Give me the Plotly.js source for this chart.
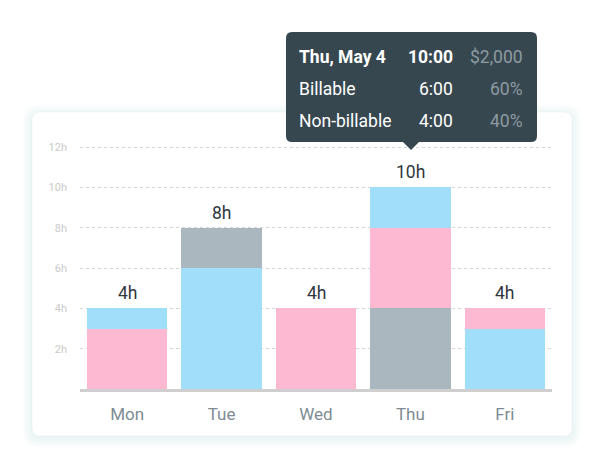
<!DOCTYPE html>
<html>
<head>
<meta charset="utf-8">
<script src="https://cdn.plot.ly/plotly-3.0.1.min.js"></script>
<style>
  html, body { margin: 0; padding: 0; background: #ffffff; }
  #chart { width: 604px; height: 460px; }
</style>
</head>
<body>
<div id="chart"></div>
<script>
// ---- data ----
const days = ['Mon', 'Tue', 'Wed', 'Thu', 'Fri'];
// stacked segments, bottom to top
const segBottom = [3, 6, 4, 4, 3];
const segMiddle = [1, 2, 0, 4, 1];
const segTop    = [0, 0, 0, 2, 0];
// segment kinds: B = billable (blue), P = pink, N = non-billable (gray)
const kindBottom = ['P', 'B', 'P', 'N', 'B'];
const kindMiddle = ['B', 'N', 'P', 'P', 'P'];
const kindTop    = ['B', 'B', 'B', 'B', 'B'];
const yTicks = [2, 4, 6, 8, 10, 12];
const tooltipRows = [
  ['Thu, May 4', '10:00', '$2,000'],
  ['Billable', '6:00', '60%'],
  ['Non-billable', '4:00', '40%']
];

// ---- styling ----
const palette = { B: '#a1defa', P: '#feb9d2', N: '#aab7bf' };
const W = 604, H = 460;
const FONT = 'Roboto, "Open Sans", sans-serif';
const px = x => x / W;
const py = y => (H - y) / H;

function roundRect(x0, y0, x1, y1, r) {
  return 'M' + px(x0 + r) + ',' + py(y0) +
    ' L' + px(x1 - r) + ',' + py(y0) +
    ' Q' + px(x1) + ',' + py(y0) + ' ' + px(x1) + ',' + py(y0 + r) +
    ' L' + px(x1) + ',' + py(y1 - r) +
    ' Q' + px(x1) + ',' + py(y1) + ' ' + px(x1 - r) + ',' + py(y1) +
    ' L' + px(x0 + r) + ',' + py(y1) +
    ' Q' + px(x0) + ',' + py(y1) + ' ' + px(x0) + ',' + py(y1 - r) +
    ' L' + px(x0) + ',' + py(y0 + r) +
    ' Q' + px(x0) + ',' + py(y0) + ' ' + px(x0 + r) + ',' + py(y0) + ' Z';
}

function layerTrace(vals, kinds) {
  return {
    type: 'bar', x: days, y: vals,
    marker: { color: kinds.map(k => palette[k]), line: { width: 0 } },
    hoverinfo: 'skip', showlegend: false
  };
}

const totals = days.map((d, i) => segBottom[i] + segMiddle[i] + segTop[i]);

const traces = [
  layerTrace(segBottom, kindBottom),
  layerTrace(segMiddle, kindMiddle),
  layerTrace(segTop, kindTop)
];

// card shadow + card
const shapes = [];
for (let i = 10; i >= 1; i--) {
  shapes.push({
    type: 'path', xref: 'paper', yref: 'paper', layer: 'below',
    path: roundRect(32 - i, 112 - i + 2, 572 + i, 436 + i + 2, 8 + i),
    fillcolor: 'rgba(60,80,100,0.009)', line: { width: 0 }
  });
}
shapes.push({
  type: 'path', xref: 'paper', yref: 'paper', layer: 'below',
  path: roundRect(32, 112, 572, 436, 8),
  fillcolor: '#ffffff', line: { width: 1, color: 'rgba(225,230,235,0.35)' }
});
// tooltip box + arrow
shapes.push({
  type: 'path', xref: 'paper', yref: 'paper', layer: 'above',
  path: roundRect(286, 32, 537, 142, 6),
  fillcolor: '#37474f', line: { width: 0 }
});
shapes.push({
  type: 'path', xref: 'paper', yref: 'paper', layer: 'above',
  path: 'M' + px(402) + ',' + py(141) + ' L' + px(420) + ',' + py(141) +
        ' L' + px(411) + ',' + py(150) + ' Z',
  fillcolor: '#37474f', line: { width: 0 }
});

const annotations = [];
// bar totals
days.forEach((d, i) => {
  annotations.push({
    xref: 'x', yref: 'y', x: d, y: totals[i],
    xanchor: 'center', yanchor: 'bottom', yshift: 3, showarrow: false,
    text: totals[i] + 'h',
    font: { family: FONT, size: 17.5, color: '#30383d' }
  });
});
const rowY = [57, 89, 121];
const TF = 17.5;
tooltipRows.forEach((row, i) => {
  const bold = i === 0;
  annotations.push({
    xref: 'paper', yref: 'paper', x: px(297), y: py(rowY[i]),
    xanchor: 'left', yanchor: 'middle', showarrow: false,
    text: bold ? '<b>' + row[0] + '</b>' : row[0],
    font: { family: FONT, size: TF, color: '#ffffff' }
  });
  annotations.push({
    xref: 'paper', yref: 'paper', x: px(455), y: py(rowY[i]),
    xanchor: 'right', yanchor: 'middle', showarrow: false,
    text: bold ? '<b>' + row[1] + '</b>' : row[1],
    font: { family: FONT, size: TF, color: '#ffffff' }
  });
  annotations.push({
    xref: 'paper', yref: 'paper', x: px(525), y: py(rowY[i]),
    xanchor: 'right', yanchor: 'middle', showarrow: false,
    text: row[2],
    font: { family: FONT, size: TF, color: '#8d9aa2' }
  });
});

const layout = {
  width: W, height: H,
  margin: { l: 0, r: 0, t: 0, b: 0 },
  paper_bgcolor: '#ffffff', plot_bgcolor: 'rgba(0,0,0,0)',
  barmode: 'stack', bargap: 0.15,
  font: { family: FONT },
  xaxis: {
    domain: [px(80), px(552)],
    showgrid: false, zeroline: false,
    showline: true, linecolor: '#cfcfcf', linewidth: 3,
    ticks: '', ticklabelstandoff: 8,
    tickfont: { family: FONT, size: 17, color: '#7d8b93' },
    fixedrange: true
  },
  yaxis: {
    domain: [py(389), py(145)],
    range: [0, 12.1],
    tickvals: yTicks, ticktext: yTicks.map(v => v + 'h'),
    showgrid: true, gridcolor: '#d6d6d6', griddash: 'dot', gridwidth: 1,
    zeroline: false, showline: false, ticks: '', ticklabelstandoff: 12,
    tickfont: { family: FONT, size: 11, color: '#c9c9c9' },
    fixedrange: true
  },
  shapes: shapes,
  annotations: annotations
};

Plotly.newPlot('chart', traces, layout, { displayModeBar: false, staticPlot: true });
</script>
</body>
</html>
